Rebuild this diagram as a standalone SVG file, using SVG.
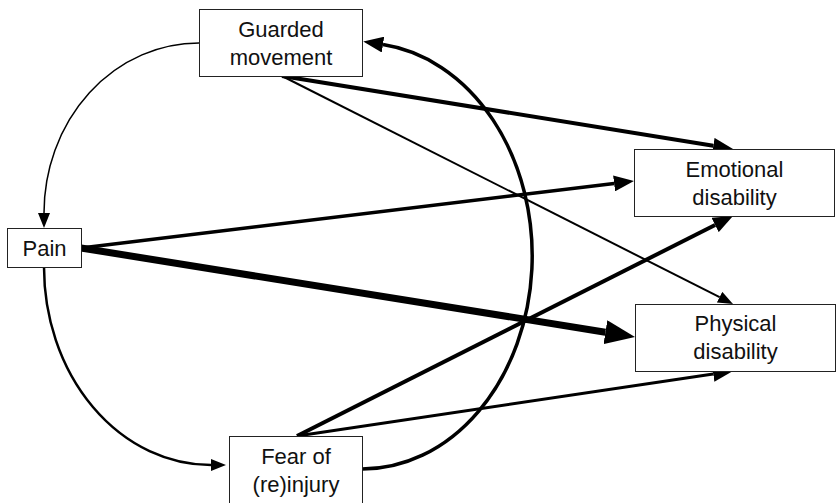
<svg xmlns="http://www.w3.org/2000/svg" width="837" height="503" viewBox="0 0 837 503">
  <style>
    .box { fill: #fff; stroke: #222; stroke-width: 1; }
    .lbl { font-family: "Liberation Sans", Arial, sans-serif; font-size: 22px; fill: #111; text-anchor: middle; }
    .edge { fill: none; stroke: #000; }
  </style>
  <defs>
    <marker id="aS" markerUnits="userSpaceOnUse" markerWidth="16" markerHeight="12" refX="0" refY="6" orient="auto">
      <path d="M0,0 L15,6 L0,12 Z" fill="#000"/>
    </marker>
    <marker id="aM" markerUnits="userSpaceOnUse" markerWidth="21" markerHeight="16" refX="0" refY="8" orient="auto">
      <path d="M0,0 L20,8 L0,16 Z" fill="#000"/>
    </marker>
    <marker id="aL" markerUnits="userSpaceOnUse" markerWidth="31" markerHeight="24" refX="0" refY="12" orient="auto">
      <path d="M0,0 L30,12 L0,24 Z" fill="#000"/>
    </marker>
  </defs>

  <g id="connectors">
    <path class="edge" d="M199,43 A155,170 0 0 0 44,213" stroke-width="1.5" marker-end="url(#aS)"/>
    <path class="edge" d="M44,267 A167,198 0 0 0 211,465" stroke-width="2.5" marker-end="url(#aS)"/>
    <path class="edge" d="M362,469 A170,213 0 0 0 383,44.6" stroke-width="3.5" marker-end="url(#aM)"/>
    <path class="edge" d="M282,76 L713.3,145.8" stroke-width="4" marker-end="url(#aM)"/>
    <path class="edge" d="M282,76 L719.6,297.2" stroke-width="2" marker-end="url(#aS)"/>
    <path class="edge" d="M81,248 L614.1,183.4" stroke-width="3.5" marker-end="url(#aM)"/>
    <path class="edge" d="M81,248 L605.4,332.2" stroke-width="7" marker-end="url(#aL)"/>
    <path class="edge" d="M297,436 L715.1,225" stroke-width="4" marker-end="url(#aM)"/>
    <path class="edge" d="M297,436 L713.2,373.9" stroke-width="3" marker-end="url(#aM)"/>
  </g>

  <g id="guarded">
    <rect class="box" x="199.5" y="9.5" width="163" height="67"/>
    <text class="lbl" x="281" y="36.5">Guarded</text>
    <text class="lbl" x="281" y="64.5">movement</text>
  </g>
  <g id="pain">
    <rect class="box" x="7.5" y="228.5" width="74" height="39"/>
    <text class="lbl" x="44.5" y="256">Pain</text>
  </g>
  <g id="fear">
    <rect class="box" x="229.5" y="436.5" width="133" height="70"/>
    <text class="lbl" x="296" y="464">Fear of</text>
    <text class="lbl" x="296" y="492">(re)injury</text>
  </g>
  <g id="emotional">
    <rect class="box" x="634.5" y="149.5" width="200" height="67"/>
    <text class="lbl" x="734.5" y="177">Emotional</text>
    <text class="lbl" x="734.5" y="205">disability</text>
  </g>
  <g id="physical">
    <rect class="box" x="635.5" y="304.5" width="200" height="67"/>
    <text class="lbl" x="735.5" y="331">Physical</text>
    <text class="lbl" x="735.5" y="359">disability</text>
  </g>
</svg>
